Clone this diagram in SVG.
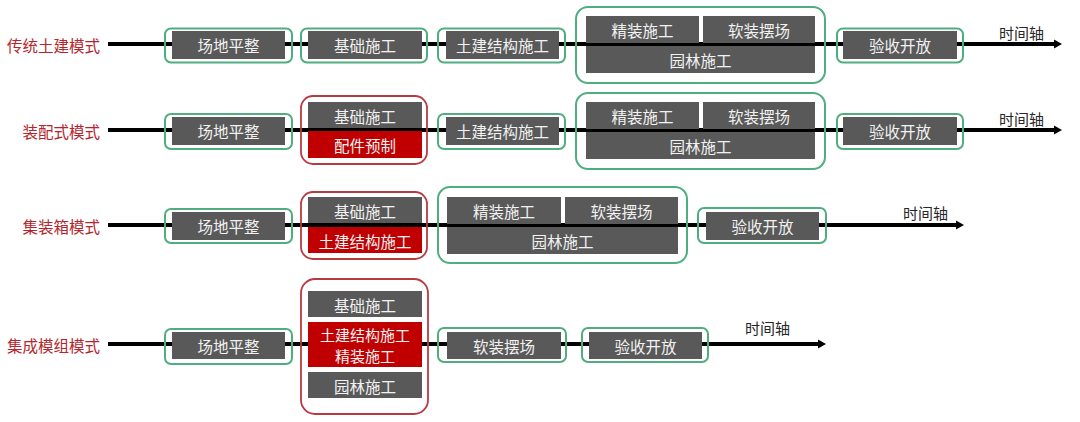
<svg xmlns="http://www.w3.org/2000/svg" width="1080" height="422" viewBox="0 0 1080 422">
<defs>
<style>
.lbl{font-family:"Microsoft YaHei","Noto Sans CJK SC",sans-serif;font-size:15.5px;fill:#b3262c;text-anchor:end;dominant-baseline:central}
.axis{font-family:"Microsoft YaHei","Noto Sans CJK SC",sans-serif;font-size:15px;fill:#262626}
.t{font-family:"Microsoft YaHei","Noto Sans CJK SC",sans-serif;font-size:15.5px;fill:#f2f2f2;text-anchor:middle;dominant-baseline:central}
.t2{font-size:15px}
.g{fill:#595959}
.r{fill:#c00000}
.gf{fill:none;stroke:#4fae80;stroke-width:2}
.rf{fill:none;stroke:#b83a40;stroke-width:1.8}
.ln{stroke:#000;stroke-width:4;fill:none}
</style>
<marker id="arr" markerUnits="userSpaceOnUse" markerWidth="9" markerHeight="10" refX="0" refY="5" orient="auto">
<path d="M0,0.5 L8,5 L0,9.5 z" fill="#000"/>
</marker>
</defs>
<rect width="1080" height="422" fill="#ffffff"/>

<g id="connectors">
<line class="ln" x1="108" y1="44" x2="1054" y2="44" marker-end="url(#arr)"/>
<line class="ln" x1="108" y1="130" x2="1054" y2="130" marker-end="url(#arr)"/>
<line class="ln" x1="108" y1="225" x2="956" y2="225" marker-end="url(#arr)"/>
<line class="ln" x1="108" y1="344" x2="818" y2="344" marker-end="url(#arr)"/>
</g>

<g id="labels">
<text class="lbl" x="100" y="45">传统土建模式</text>
<text class="lbl" x="100" y="131">装配式模式</text>
<text class="lbl" x="100" y="226">集装箱模式</text>
<text class="lbl" x="100" y="345">集成模组模式</text>
<text class="axis" x="999" y="39">时间轴</text>
<text class="axis" x="999" y="125">时间轴</text>
<text class="axis" x="903" y="219">时间轴</text>
<text class="axis" x="745" y="334">时间轴</text>
</g>

<!-- Row 1 -->
<g id="r1-site">
<rect class="gf" x="165" y="28.5" width="127" height="34" rx="6"/>
<rect class="g" x="172" y="31" width="113" height="28"/>
<text class="t" x="228.5" y="45">场地平整</text>
</g>
<g id="r1-found">
<rect class="gf" x="301" y="28.5" width="126" height="34" rx="6"/>
<rect class="g" x="308" y="31" width="114" height="28"/>
<text class="t" x="365" y="45">基础施工</text>
</g>
<g id="r1-struct">
<rect class="gf" x="438" y="28.5" width="127" height="34" rx="6"/>
<rect class="g" x="446" y="31" width="113" height="28"/>
<text class="t" x="502.5" y="45">土建结构施工</text>
</g>
<g id="r1-finish">
<rect class="gf" x="576" y="7" width="249" height="76" rx="12"/>
<rect class="g" x="586" y="16" width="113" height="27"/>
<text class="t" x="642.5" y="29.5">精装施工</text>
<rect class="g" x="703" y="16" width="112" height="27"/>
<text class="t" x="759" y="29.5">软装摆场</text>
<rect class="g" x="586" y="46" width="229" height="27"/>
<text class="t" x="700.5" y="59.5">园林施工</text>
</g>
<g id="r1-accept">
<rect class="gf" x="837" y="28.5" width="126" height="34" rx="6"/>
<rect class="g" x="843" y="31" width="114" height="28"/>
<text class="t" x="900" y="45">验收开放</text>
</g>

<!-- Row 2 -->
<g id="r2-site">
<rect class="gf" x="165" y="114" width="127" height="35" rx="6"/>
<rect class="g" x="172" y="117" width="113" height="28"/>
<text class="t" x="228.5" y="131">场地平整</text>
</g>
<g id="r2-found">
<rect class="rf" x="301" y="96" width="126" height="68" rx="12"/>
<rect class="g" x="308" y="102" width="114" height="26"/>
<text class="t" x="365" y="115.5">基础施工</text>
<rect class="r" x="308" y="131" width="114" height="27"/>
<text class="t" x="365" y="145">配件预制</text>
</g>
<g id="r2-struct">
<rect class="gf" x="438" y="114" width="127" height="35" rx="6"/>
<rect class="g" x="446" y="117" width="113" height="28"/>
<text class="t" x="502.5" y="131">土建结构施工</text>
</g>
<g id="r2-finish">
<rect class="gf" x="576" y="93" width="249" height="76" rx="12"/>
<rect class="g" x="586" y="102" width="113" height="27"/>
<text class="t" x="642.5" y="115.5">精装施工</text>
<rect class="g" x="703" y="102" width="112" height="27"/>
<text class="t" x="759" y="115.5">软装摆场</text>
<rect class="g" x="586" y="132" width="229" height="27"/>
<text class="t" x="700.5" y="145.5">园林施工</text>
</g>
<g id="r2-accept">
<rect class="gf" x="837" y="114" width="126" height="35" rx="6"/>
<rect class="g" x="843" y="117" width="114" height="28"/>
<text class="t" x="900" y="131">验收开放</text>
</g>

<!-- Row 3 -->
<g id="r3-site">
<rect class="gf" x="165" y="209" width="127" height="34" rx="6"/>
<rect class="g" x="172" y="212" width="113" height="28"/>
<text class="t" x="228.5" y="226">场地平整</text>
</g>
<g id="r3-found">
<rect class="rf" x="301" y="192" width="126" height="67" rx="12"/>
<rect class="g" x="308" y="197" width="114" height="26"/>
<text class="t" x="365" y="210.5">基础施工</text>
<rect class="r" x="308" y="227" width="114" height="26"/>
<text class="t" x="365" y="240.5">土建结构施工</text>
</g>
<g id="r3-finish">
<rect class="gf" x="438" y="187" width="249" height="76" rx="12"/>
<rect class="g" x="447" y="197" width="114" height="27"/>
<text class="t" x="504" y="210.5">精装施工</text>
<rect class="g" x="565" y="197" width="113" height="27"/>
<text class="t" x="621.5" y="210.5">软装摆场</text>
<rect class="g" x="447" y="227" width="231" height="27"/>
<text class="t" x="562.5" y="240.5">园林施工</text>
</g>
<g id="r3-accept">
<rect class="gf" x="698" y="208" width="128" height="35" rx="6"/>
<rect class="g" x="706" y="212" width="113" height="28"/>
<text class="t" x="762.5" y="226">验收开放</text>
</g>

<!-- Row 4 -->
<g id="r4-site">
<rect class="gf" x="165" y="329" width="127" height="35" rx="6"/>
<rect class="g" x="172" y="332" width="113" height="27"/>
<text class="t" x="228.5" y="345.5">场地平整</text>
</g>
<g id="r4-build">
<rect class="rf" x="301" y="279" width="127" height="135" rx="14"/>
<rect class="g" x="308" y="291" width="114" height="26"/>
<text class="t" x="365" y="304.5">基础施工</text>
<rect class="r" x="308" y="322" width="114" height="45"/>
<text class="t t2" x="365" y="334">土建结构施工</text>
<text class="t t2" x="365" y="355">精装施工</text>
<rect class="g" x="308" y="372" width="114" height="26"/>
<text class="t" x="365" y="385.5">园林施工</text>
</g>
<g id="r4-soft">
<rect class="gf" x="438" y="328" width="128" height="34" rx="6"/>
<rect class="g" x="447" y="332" width="114" height="27"/>
<text class="t" x="504" y="345.5">软装摆场</text>
</g>
<g id="r4-accept">
<rect class="gf" x="582" y="328" width="126" height="34" rx="6"/>
<rect class="g" x="589" y="332" width="113" height="27"/>
<text class="t" x="645.5" y="345.5">验收开放</text>
</g>
</svg>
